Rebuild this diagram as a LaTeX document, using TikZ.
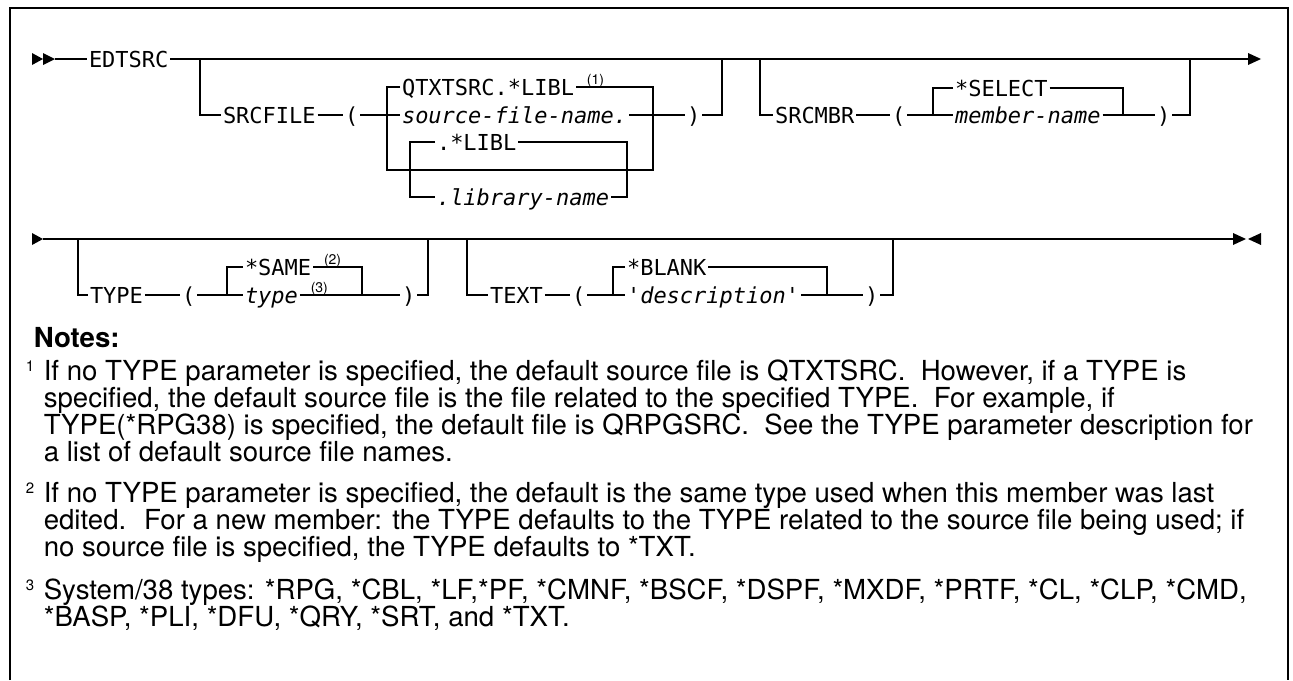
\documentclass[tikz,border=0pt]{standalone}
\usepackage{fontspec}
\usetikzlibrary{positioning}
\newfontfamily\synfont[Ligatures=TeXOff]{DejaVu Sans Mono}
\newfontfamily\notefont{TeX Gyre Heros}
\tikzset{
  syn/.style={font=\synfont\fontsize{11}{13}\selectfont, anchor=west, inner xsep=0.6pt, inner ysep=0pt, text height=8pt, text depth=0pt},
  synit/.style={syn, font=\synfont\itshape\fontsize{11}{13}\selectfont},
  supnum/.style={font=\notefont\fontsize{7}{8}\selectfont, inner sep=0pt},
  notehead/.style={font=\notefont\bfseries\fontsize{13.8}{13.5}\selectfont, anchor=north west, inner sep=0pt},
  notetext/.style={font=\notefont\fontsize{13.8}{13.5}\selectfont, anchor=north west, inner sep=0pt, align=left},
  notedig/.style={font=\notefont\fontsize{7.5}{8}\selectfont, anchor=north west, inner sep=0pt},
}
\begin{document}
\begin{tikzpicture}[x=0.5pt, y=-0.5pt, line width=0.8pt]
		\useasboundingbox (0,0) rectangle (1293,680);
		\draw (10,680) -- (10,8) -- (1288,8) -- (1288,680);
		% first line: EDTSRC, SRCFILE, SRCMBR
		\fill (32,53) -- (43,59) -- (32,65) -- cycle;
		\fill (43,53) -- (55,59) -- (43,65) -- cycle;
		\fill (1248,53) -- (1261,59) -- (1248,65) -- cycle;
		\coordinate (startA) at (55,59);
		\coordinate (endA) at (1248,59);
		\node[syn] (edtsrc) at (87,59) {EDTSRC};
		\draw (startA) -- (edtsrc.west);
		\draw (edtsrc.east) -- (endA);
		\coordinate (brA) at (200,59);
		\node[syn] (srcfile) at (221,115) {SRCFILE};
		\node[syn] (lpA) at (343,115) {(};
		\node[syn] (qtx) at (400,87) {QTXTSRC.*LIBL};
		\node[synit] (srcname) at (400,115) {source-file-name.};
		\node[syn] (libl) at (435,142) {.*LIBL};
		\node[synit] (libname) at (435,197) {.library-name};
		\node[syn] (rpA) at (685,115) {)};
		\node[supnum, above right=-0.5pt and 5pt of qtx.east] (nA) {(1)};
		\coordinate (chA) at (387,115);
		\coordinate (fA) at (387,170);
		\coordinate (fB) at (653,170);
		\coordinate (gA) at (410,197);
		\coordinate (gB) at (627,197);
		\coordinate (upA) at (722,59);
		\draw (brA) |- (srcfile.west);
		\draw (srcfile.east) -- (lpA.west);
		\draw (lpA.east) -- (chA) -- (srcname.west);
		\draw (qtx.west) -| (fA) -- (fB) |- (qtx.east);
		\draw (libl.west) -| (gA) -- (libname.west);
		\draw (libname.east) -- (gB) |- (libl.east);
		\draw (srcname.east) -- (rpA.west);
		\draw (rpA.east) -| (upA);
		\coordinate (brB) at (760,59);
		\node[syn] (srcmbr) at (773,115) {SRCMBR};
		\node[syn] (lpB) at (890,115) {(};
		\node[syn] (sel) at (953,88) {*SELECT};
		\node[synit] (mbr) at (953,115) {member-name};
		\node[syn] (rpB) at (1155,115) {)};
		\coordinate (kA) at (933,115);
		\coordinate (kB) at (1123,115);
		\coordinate (upB) at (1190,59);
		\draw (brB) |- (srcmbr.west);
		\draw (srcmbr.east) -- (lpB.west);
		\draw (lpB.east) -- (mbr.west);
		\draw (sel.west) -| (kA);
		\draw (sel.east) -| (kB);
		\draw (mbr.east) -- (rpB.west);
		\draw (rpB.east) -| (upB);
		% second line: TYPE, TEXT
		\fill (32,233) -- (43,239) -- (32,245) -- cycle;
		\fill (1233,233) -- (1246,239) -- (1233,245) -- cycle;
		\fill (1261,233) -- (1248,239) -- (1261,245) -- cycle;
		\coordinate (startB) at (43,239);
		\coordinate (endB) at (1233,239);
		\draw (startB) -- (endB);
		\coordinate (brC) at (78,239);
		\node[syn] (type) at (88,295) {TYPE};
		\node[syn] (lpC) at (180,295) {(};
		\node[syn] (same) at (243,267) {*SAME};
		\node[synit] (typev) at (243,295) {type};
		\node[syn] (rpC) at (400,295) {)};
		\node[supnum, above right=-0.5pt and 5pt of same.east] (nB) {(2)};
		\node[supnum, above right=-0.5pt and 5pt of typev.east] (nC) {(3)};
		\coordinate (mA) at (227,295);
		\coordinate (mB) at (362,295);
		\coordinate (upC) at (428,239);
		\draw (brC) |- (type.west);
		\draw (type.east) -- (lpC.west);
		\draw (lpC.east) -- (typev.west);
		\draw (same.west) -| (mA);
		\draw (same.east) -| (mB);
		\draw (typev.east) -- (rpC.west);
		\draw (rpC.east) -| (upC);
		\coordinate (brD) at (467,239);
		\node[syn] (text) at (488,295) {TEXT};
		\node[syn] (lpD) at (570,295) {(};
		\node[syn] (blank) at (625,267) {*BLANK};
		\node[synit] (desc) at (625,295) {'description'};
		\node[syn] (rpD) at (863,295) {)};
		\coordinate (nA1) at (613,295);
		\coordinate (nB1) at (827,295);
		\coordinate (upD) at (893,239);
		\draw (brD) |- (text.west);
		\draw (text.east) -- (lpD.west);
		\draw (lpD.east) -- (desc.west);
		\draw (blank.west) -| (nA1);
		\draw (blank.east) -| (nB1);
		\draw (desc.east) -- (rpD.west);
		\draw (rpD.east) -| (upD);
		% notes
		\node[notehead] (notes) at (33,327) {Notes:};
		\node[notetext] (noteone) at (43,359) {If no TYPE parameter is specified, the default source file is QTXTSRC.~ However, if a TYPE is\\specified, the default source file is the file related to the specified TYPE.~ For example, if\\TYPE(*RPG38) is specified, the default file is QRPGSRC.~ See the TYPE parameter description for\\a list of default source file names.};
		\node[notetext] (notetwo) at (43,481) {If no TYPE parameter is specified, the default is the same type used when this member was last\\edited.~ For a new member: the TYPE defaults to the TYPE related to the source file being used; if\\no source file is specified, the TYPE defaults to *TXT.};
		\node[notetext] (notethree) at (43,578) {System/38 types: *RPG, *CBL, *LF,*PF, *CMNF, *BSCF, *DSPF, *MXDF, *PRTF, *CL, *CLP, *CMD,\\*BASP, *PLI, *DFU, *QRY, *SRT, and *TXT.};
		\node[notedig] (done) at (25,360) {1};
		\node[notedig] (dtwo) at (25,482) {2};
		\node[notedig] (dthree) at (25,579) {3};
\end{tikzpicture}
\end{document}
